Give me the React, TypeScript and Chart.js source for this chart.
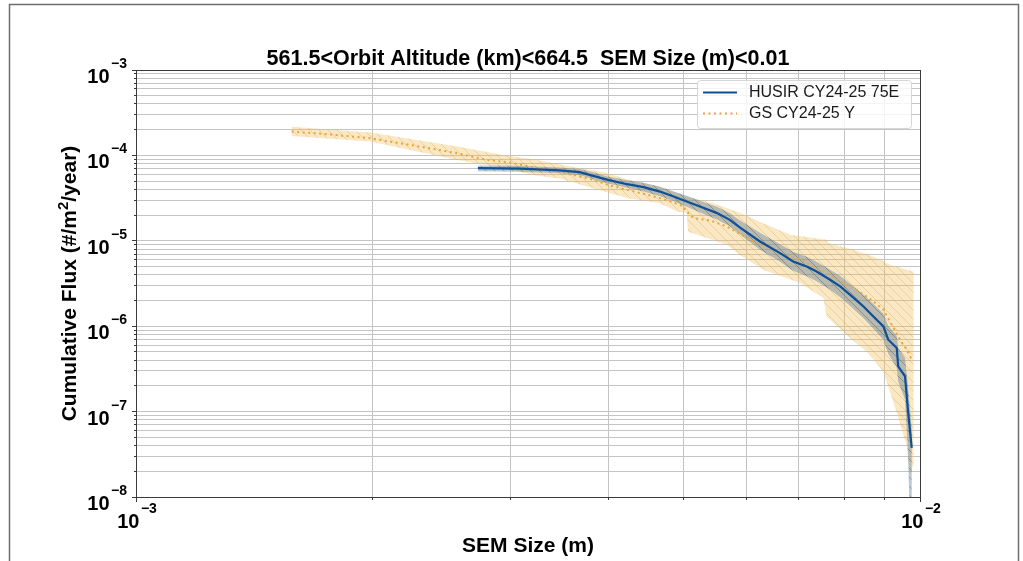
import React, { useEffect, useRef } from "react";
import { Chart, registerables } from "chart.js";

Chart.register(...registerables);

const FONT = "'Liberation Sans', Arial, Helvetica, sans-serif";

// ---- texts ----
const chartTitle = "561.5<Orbit Altitude (km)<664.5  SEM Size (m)<0.01";
const xAxisTitle = "SEM Size (m)";
const yAxisTitleParts = ["Cumulative Flux (#/m", "2", "/year)"];
const legendLabels = ["HUSIR CY24-25 75E", "GS CY24-25 Y"];

// ---- tick labels (powers of ten) ----
const xTickExponents = [-3, -2];
const yTickExponents = [-8, -7, -6, -5, -4, -3];
const minorMultipliers = [2, 3, 4, 5, 6, 7, 8, 9];

// ---- HUSIR CY24-25 75E (solid blue) ----
const husirSize = [2.73e-3, 3.09e-3, 3.47e-3, 3.68e-3, 3.83e-3, 4.0e-3, 4.23e-3, 4.44e-3, 4.66e-3, 4.85e-3, 5.04e-3, 5.24e-3, 5.51e-3, 5.72e-3, 5.89e-3, 6.25e-3, 6.63e-3, 6.89e-3, 7.17e-3, 7.38e-3, 7.68e-3, 7.91e-3, 8.14e-3, 8.47e-3, 8.72e-3, 8.98e-3, 9.11e-3, 9.34e-3, 9.38e-3, 9.57e-3, 9.65e-3, 9.76e-3];
const husirFlux = [7.08e-5, 6.99e-5, 6.68e-5, 6.36e-5, 5.76e-5, 5.17e-5, 4.6e-5, 4.25e-5, 3.77e-5, 3.3e-5, 2.88e-5, 2.52e-5, 2.11e-5, 1.76e-5, 1.44e-5, 9.81e-6, 7.18e-6, 5.73e-6, 5.0e-6, 4.37e-6, 3.5e-6, 2.92e-6, 2.34e-6, 1.7e-6, 1.3e-6, 9.95e-7, 6.95e-7, 5.56e-7, 3.39e-7, 2.59e-7, 1.06e-7, 3.76e-8];
const husirUpper = [7.64e-5, 7.54e-5, 7.24e-5, 6.95e-5, 6.33e-5, 5.68e-5, 5.1e-5, 4.77e-5, 4.28e-5, 3.79e-5, 3.36e-5, 2.94e-5, 2.5e-5, 2.1e-5, 1.74e-5, 1.24e-5, 9.1e-6, 7.44e-6, 6.5e-6, 5.68e-6, 4.58e-6, 3.9e-6, 3.14e-6, 2.34e-6, 1.83e-6, 1.4e-6, 1.01e-6, 7.74e-7, 5.6e-7, 4.28e-7, 2.07e-7, 6.16e-8];
const husirLower = [6.53e-5, 6.45e-5, 6.16e-5, 5.84e-5, 5.24e-5, 4.7e-5, 4.17e-5, 3.79e-5, 3.32e-5, 2.9e-5, 2.5e-5, 2.15e-5, 1.78e-5, 1.48e-5, 1.19e-5, 7.85e-6, 5.68e-6, 4.46e-6, 3.85e-6, 3.36e-6, 2.67e-6, 2.18e-6, 1.74e-6, 1.24e-6, 9.35e-7, 6.95e-7, 4.77e-7, 3.27e-7, 2.24e-7, 1.38e-7, 3.59e-8, 1e-9];

// ---- GS CY24-25 Y (dotted orange) ----
const gsSize = [1.58e-3, 1.77e-3, 1.99e-3, 2.3e-3, 2.57e-3, 2.8e-3, 3.0e-3, 3.31e-3, 3.61e-3, 3.83e-3, 4.0e-3, 4.23e-3, 4.44e-3, 4.66e-3, 4.85e-3, 4.99e-3, 5.04e-3, 5.14e-3, 5.4e-3, 5.67e-3, 5.89e-3, 6.19e-3, 6.63e-3, 7.03e-3, 7.38e-3, 7.68e-3, 7.91e-3, 8.3e-3, 8.72e-3, 8.98e-3, 9.25e-3, 9.43e-3, 9.62e-3, 9.76e-3];
const gsFlux = [1.9e-4, 1.76e-4, 1.59e-4, 1.27e-4, 1.06e-4, 8.86e-5, 8.24e-5, 6.9e-5, 5.91e-5, 5.17e-5, 4.52e-5, 3.95e-5, 3.55e-5, 3.16e-5, 2.81e-5, 2.52e-5, 2.2e-5, 1.84e-5, 1.73e-5, 1.47e-5, 1.21e-5, 9.4e-6, 7.18e-6, 6.0e-6, 4.79e-6, 4.0e-6, 3.34e-6, 2.67e-6, 1.95e-6, 1.56e-6, 9.61e-7, 6.95e-7, 5.31e-7, 4.06e-7];
const gsUpperSize = [1.58e-3, 1.99e-3, 2.57e-3, 2.94e-3, 3.25e-3, 3.58e-3, 3.91e-3, 4.35e-3, 4.66e-3, 5.04e-3, 5.24e-3, 5.45e-3, 5.89e-3, 6.31e-3, 6.83e-3, 7.6e-3, 7.63e-3, 8.22e-3, 8.72e-3, 9.16e-3, 9.81e-3, 9.81e-3];
const gsUpper = [2.17e-4, 1.85e-4, 1.27e-4, 1.01e-4, 8.86e-5, 7.4e-5, 6.46e-5, 4.9e-5, 4.32e-5, 3.3e-5, 3.02e-5, 2.76e-5, 2.13e-5, 1.61e-5, 1.18e-5, 1.03e-5, 9.4e-6, 7.85e-6, 6.55e-6, 5.24e-6, 4.37e-6, 2.4e-8];
const gsLowerSize = [1.58e-3, 1.99e-3, 2.57e-3, 2.94e-3, 3.25e-3, 3.47e-3, 3.83e-3, 3.98e-3, 4.23e-3, 4.66e-3, 4.9e-3, 5.04e-3, 5.06e-3, 5.35e-3, 5.67e-3, 5.89e-3, 6.31e-3, 7.03e-3, 7.53e-3, 7.6e-3, 8.14e-3, 8.55e-3, 8.98e-3, 9.34e-3, 9.62e-3, 9.71e-3];
const gsLower = [1.69e-4, 1.45e-4, 8.86e-5, 7.08e-5, 5.76e-5, 5.38e-5, 4.13e-5, 3.74e-5, 3.18e-5, 2.76e-5, 2.2e-5, 2.11e-5, 1.28e-5, 1.08e-5, 8.98e-6, 6.86e-6, 4.58e-6, 3.2e-6, 2.14e-6, 1.3e-6, 7.34e-7, 5.03e-7, 2.94e-7, 9.73e-8, 3.93e-8, 1.83e-8];

// ---- styles ----
const BLUE = "#0f4f96";
const ORANGE = "#e8a53a";
const GRID = "#c4c4c4";
const SPINE = "#3a3a3a";

function gridValues(exps: number[]): number[] {
  const out: number[] = [];
  exps.forEach((e, i) => {
    const base = Math.pow(10, e);
    out.push(base);
    if (i < exps.length - 1) minorMultipliers.forEach((m) => out.push(m * base));
  });
  return out;
}
const xGridValues = gridValues(xTickExponents);
const yGridValues = gridValues(yTickExponents);

const pts = (xs: number[], ys: number[]) => xs.map((x, i) => ({ x, y: ys[i] }));

function makeHatch(ctx: CanvasRenderingContext2D, fill: string, line: string, size: number, width: number) {
  const c = document.createElement("canvas");
  c.width = size;
  c.height = size;
  const g = c.getContext("2d")!;
  g.fillStyle = fill;
  g.fillRect(0, 0, size, size);
  g.strokeStyle = line;
  g.lineWidth = width;
  g.beginPath();
  for (const k of [-size, 0, size]) {
    g.moveTo(k - 1, -1);
    g.lineTo(k + size + 1, size + 1);
  }
  g.stroke();
  return ctx.createPattern(c, "repeat")!;
}

const align = (p: number) => Math.round(p - 0.5) + 0.5;
const supText = (e: number) => (e < 0 ? "\u2212" + Math.abs(e) : String(e));

const decorPlugin = {
  id: "decor",
  afterDraw(chart: any) {
    const ctx: CanvasRenderingContext2D = chart.ctx;
    const area = chart.chartArea;
    const xs = chart.scales.x;
    const ys = chart.scales.y;
    const L = align(area.left);
    const R = align(area.right);
    const T = align(area.top);
    const B = align(area.bottom);
    ctx.save();

    // tick marks
    ctx.strokeStyle = SPINE;
    ctx.lineWidth = 1;
    ctx.beginPath();
    xGridValues.forEach((v) => {
      const p = align(xs.getPixelForValue(v));
      const major = Math.abs(Math.log10(v) - Math.round(Math.log10(v))) < 1e-9;
      ctx.moveTo(p, B);
      ctx.lineTo(p, B + (major ? 4.5 : 2.5));
    });
    yGridValues.forEach((v) => {
      const p = align(ys.getPixelForValue(v));
      const major = Math.abs(Math.log10(v) - Math.round(Math.log10(v))) < 1e-9;
      ctx.moveTo(L, p);
      ctx.lineTo(L - (major ? 4.5 : 2.5), p);
    });
    ctx.stroke();

    // spines
    ctx.strokeStyle = SPINE;
    ctx.lineWidth = 1;
    ctx.strokeRect(L, T, R - L, B - T);

    // tick labels
    ctx.fillStyle = "#000";
    ctx.textBaseline = "alphabetic";
    ctx.textAlign = "left";
    const bigFont = `bold 20px ${FONT}`;
    const supFont = `bold 14px ${FONT}`;
    yTickExponents.forEach((e) => {
      const py = ys.getPixelForValue(Math.pow(10, e));
      ctx.font = supFont;
      const s = supText(e);
      const sw = ctx.measureText(s).width;
      ctx.font = bigFont;
      const tw = ctx.measureText("10").width;
      const supX = area.left - 9 - sw;
      ctx.fillText("10", supX - 1.5 - tw, py + 13);
      ctx.font = supFont;
      ctx.fillText(s, supX, py - 2);
    });
    xTickExponents.forEach((e) => {
      const px = xs.getPixelForValue(Math.pow(10, e));
      ctx.font = supFont;
      const s = supText(e);
      const sw = ctx.measureText(s).width;
      ctx.font = bigFont;
      const tw = ctx.measureText("10").width;
      const start = px - (tw + 1.5 + sw) / 2 + 1;
      ctx.fillText("10", start, 528);
      ctx.font = supFont;
      ctx.fillText(s, start + tw + 1.5, 513);
    });

    // title
    ctx.font = `bold 21.5px ${FONT}`;
    ctx.textAlign = "center";
    const cx = (area.left + area.right) / 2;
    ctx.fillText(chartTitle, cx, 65);

    // x axis title
    ctx.font = `bold 21px ${FONT}`;
    ctx.fillText(xAxisTitle, cx, 552);

    // y axis title (rotated, with superscript)
    ctx.save();
    ctx.translate(76, (area.top + area.bottom) / 2);
    ctx.rotate(-Math.PI / 2);
    ctx.textAlign = "left";
    const mainFont = `bold 21px ${FONT}`;
    const smallFont = `bold 15px ${FONT}`;
    ctx.font = mainFont;
    const w0 = ctx.measureText(yAxisTitleParts[0]).width;
    const w2 = ctx.measureText(yAxisTitleParts[2]).width;
    ctx.font = smallFont;
    const w1 = ctx.measureText(yAxisTitleParts[1]).width;
    let x0 = -(w0 + w1 + w2) / 2;
    ctx.font = mainFont;
    ctx.fillText(yAxisTitleParts[0], x0, 0);
    x0 += w0;
    ctx.font = smallFont;
    ctx.fillText(yAxisTitleParts[1], x0, -8);
    x0 += w1;
    ctx.font = mainFont;
    ctx.fillText(yAxisTitleParts[2], x0, 0);
    ctx.restore();

    // legend
    const lx = 697.5, ly = 80.5, lw = 214, lh = 48, r = 3;
    ctx.beginPath();
    ctx.moveTo(lx + r, ly);
    ctx.lineTo(lx + lw - r, ly);
    ctx.arcTo(lx + lw, ly, lx + lw, ly + r, r);
    ctx.lineTo(lx + lw, ly + lh - r);
    ctx.arcTo(lx + lw, ly + lh, lx + lw - r, ly + lh, r);
    ctx.lineTo(lx + r, ly + lh);
    ctx.arcTo(lx, ly + lh, lx, ly + lh - r, r);
    ctx.lineTo(lx, ly + r);
    ctx.arcTo(lx, ly, lx + r, ly, r);
    ctx.closePath();
    ctx.fillStyle = "rgba(255,255,255,0.82)";
    ctx.fill();
    ctx.strokeStyle = "#d6d6d6";
    ctx.lineWidth = 1;
    ctx.stroke();

    ctx.lineCap = "butt";
    ctx.strokeStyle = BLUE;
    ctx.lineWidth = 2.2;
    ctx.beginPath();
    ctx.moveTo(703, 92.5);
    ctx.lineTo(737, 92.5);
    ctx.stroke();
    ctx.strokeStyle = ORANGE;
    ctx.lineWidth = 2;
    ctx.setLineDash([2, 3.5]);
    ctx.beginPath();
    ctx.moveTo(703, 113.5);
    ctx.lineTo(737, 113.5);
    ctx.stroke();
    ctx.setLineDash([]);

    ctx.fillStyle = "#1a1a1a";
    ctx.font = `16px ${FONT}`;
    ctx.textAlign = "left";
    ctx.textBaseline = "middle";
    ctx.fillText(legendLabels[0], 749, 93);
    ctx.fillText(legendLabels[1], 749, 114);

    // outer frame
    ctx.strokeStyle = "#6e6e6e";
    ctx.lineWidth = 1.5;
    ctx.beginPath();
    ctx.moveTo(9.5, 565);
    ctx.lineTo(9.5, 4.5);
    ctx.lineTo(1018.5, 4.5);
    ctx.lineTo(1018.5, 565);
    ctx.stroke();

    ctx.restore();
  },
};

export default function App() {
  const ref = useRef<HTMLCanvasElement>(null);

  useEffect(() => {
    document.body.style.margin = "0";
    document.body.style.background = "#ffffff";
    const canvas = ref.current!;
    const ctx = canvas.getContext("2d")!;
    const orangeHatch = makeHatch(ctx, "rgba(240,188,88,0.36)", "rgba(214,158,55,0.32)", 9, 1);
    const blueHatch = makeHatch(ctx, "rgba(85,120,150,0.40)", "rgba(80,92,100,0.35)", 9, 1);

    const husirBand = [...pts(husirSize, husirUpper), ...pts(husirSize, husirLower).reverse()];
    const gsBand = [...pts(gsUpperSize, gsUpper), ...pts(gsLowerSize, gsLower).reverse()];

    const chart = new Chart(canvas, {
      type: "scatter",
      data: {
        datasets: [
          {
            label: legendLabels[0],
            data: pts(husirSize, husirFlux),
            showLine: true,
            borderColor: BLUE,
            borderWidth: 2.2,
            pointRadius: 0,
            fill: false,
            order: 0,
          },
          {
            label: legendLabels[1],
            data: pts(gsSize, gsFlux),
            showLine: true,
            borderColor: ORANGE,
            borderWidth: 2,
            borderDash: [2, 3.5],
            pointRadius: 0,
            fill: false,
            order: 1,
          },
          {
            label: "HUSIR band",
            data: husirBand,
            showLine: true,
            borderColor: "rgba(0,0,0,0)",
            borderWidth: 0,
            backgroundColor: blueHatch,
            pointRadius: 0,
            fill: "shape",
            order: 2,
          },
          {
            label: "GS band",
            data: gsBand,
            showLine: true,
            borderColor: "rgba(0,0,0,0)",
            borderWidth: 0,
            backgroundColor: orangeHatch,
            pointRadius: 0,
            fill: "shape",
            order: 3,
          },
        ],
      },
      options: {
        responsive: false,
        animation: false,
        devicePixelRatio: 1,
        events: [],
        layout: { padding: { left: 136, right: 103, top: 70, bottom: 64 }, autoPadding: false },
        plugins: {
          legend: { display: false },
          tooltip: { enabled: false },
          title: { display: false },
        },
        scales: {
          x: {
            type: "logarithmic",
            min: 1e-3,
            max: 1e-2,
            ticks: { display: false },
            grid: { color: GRID, lineWidth: 1, drawTicks: false },
            border: { display: false },
            afterBuildTicks: (s: any) => {
              s.ticks = xGridValues.map((v) => ({ value: v }));
            },
          },
          y: {
            type: "logarithmic",
            min: 1e-8,
            max: 1e-3,
            ticks: { display: false },
            grid: { color: GRID, lineWidth: 1, drawTicks: false },
            border: { display: false },
            afterBuildTicks: (s: any) => {
              s.ticks = yGridValues.map((v) => ({ value: v }));
            },
          },
        },
      } as any,
      plugins: [decorPlugin],
    });
    return () => chart.destroy();
  }, []);

  return (
    <div style={{ width: 1023, height: 561, position: "relative", overflow: "hidden", background: "#fff" }}>
      <canvas ref={ref} width={1023} height={561} style={{ display: "block", width: 1023, height: 561 }} />
    </div>
  );
}
